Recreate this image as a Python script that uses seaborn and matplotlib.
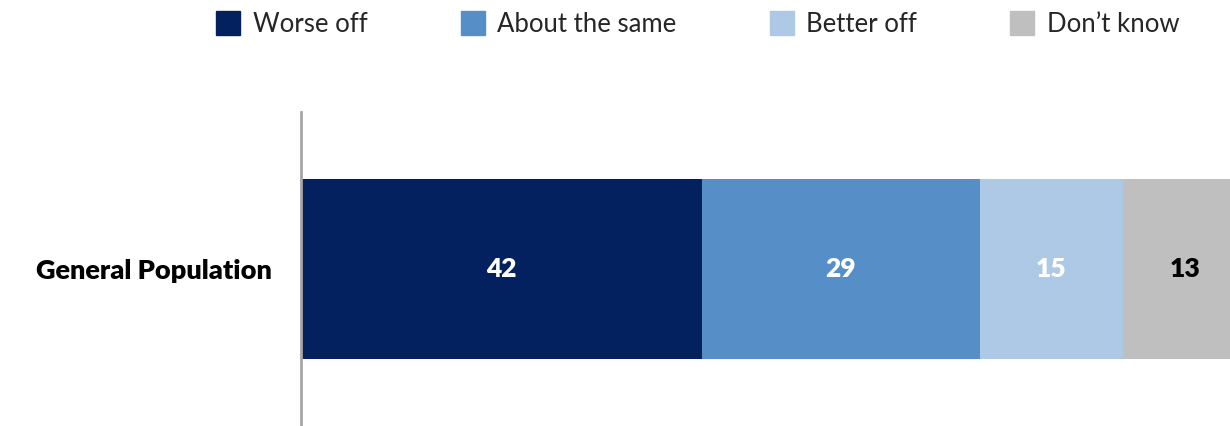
import matplotlib
matplotlib.use("Agg")
import matplotlib.pyplot as plt
from matplotlib.lines import Line2D
import seaborn as sns
import pandas as pd

# data
groups = ["General Population"]
categories = ["Worse off", "About the same", "Better off", "Don\u2019t know"]
values = [42, 29, 15, 13]
colors = ["#03215F", "#568FC8", "#ADC9E5", "#BFBFBF"]
label_colors = ["white", "white", "white", "black"]

sns.set_theme(style="white")
plt.rcParams["font.family"] = ["Lato", "DejaVu Sans"]

df = pd.DataFrame({"group": groups * len(categories), "category": categories, "value": values})
df["cum"] = df["value"].cumsum()

fig = plt.figure(figsize=(12.3, 4.26), dpi=100)
ax = fig.add_axes([0.2447, 0.0, 0.7553, 0.737])

# stacked bar: draw cumulative totals from largest to smallest
for i in reversed(range(len(df))):
    row = df.iloc[[i]]
    sns.barplot(data=row, x="cum", y="group", color=colors[i], orient="h",
                width=0.576, ax=ax, saturation=1, linewidth=0)

for i, r in df.iterrows():
    ax.text(r["cum"] - r["value"] / 2, 0, str(r["value"]), ha="center", va="center",
            fontsize=19, fontweight="heavy", color=label_colors[i])

ax.set_xlim(0, 97.2)
ax.set_ylim(0.5, -0.5)
ax.set_xlabel("")
ax.set_ylabel("")
ax.set_xticks([])
ax.tick_params(axis="y", length=0, pad=21)
for lab in ax.get_yticklabels():
    lab.set_fontsize(19.5)
    lab.set_fontweight("heavy")
    lab.set_color("black")
for s in ["top", "right", "bottom"]:
    ax.spines[s].set_visible(False)
ax.spines["left"].set_color("#A6A6A6")
ax.spines["left"].set_linewidth(2)

handles = [Line2D([0], [0], marker="s", linestyle="", markersize=17,
                  markerfacecolor=c, markeredgecolor=c) for c in colors]
fig.legend(handles, categories, ncol=4, loc="upper center", bbox_to_anchor=(0.567, 1.025),
           frameon=False, fontsize=18.5, columnspacing=3.6, handletextpad=0.45, handlelength=1.0)

fig.savefig("out.png", dpi=100)
